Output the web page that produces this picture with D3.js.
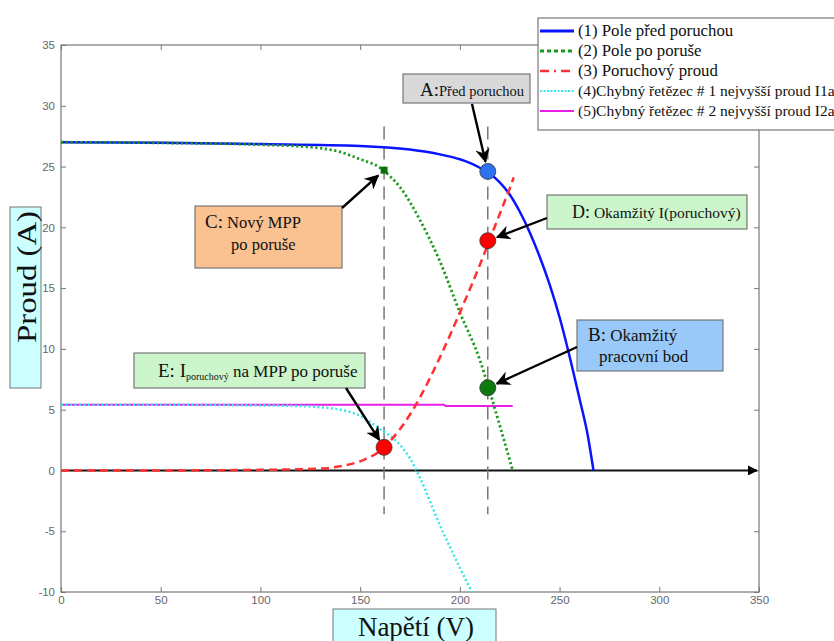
<html>
	<head>
		<title></title>
		<script type="text/javascript" src="https://d3js.org/d3.v7.min.js"></script>
		<style>
			body {
				margin: 0;
				background-color: #ffffff;
			}
			.tick text {
				font-family: Arial, "Liberation Sans", sans-serif;
				font-size: 11.5px;
				fill: #666;
			}
		</style>
	</head>
	<body>
		<div id="chart"></div>

		<script>

			var serif = "'Liberation Serif', 'Times New Roman', serif";

			//Axis ticks
			var xTicks = [0, 50, 100, 150, 200, 250, 300, 350];
			var yTicks = [-10, -5, 0, 5, 10, 15, 20, 25, 30, 35];

			//(1) Pole pred poruchou
			var v1 = [0, 50, 100, 150, 175, 190, 200, 205, 210, 215, 220, 225, 230, 235, 240, 245, 250, 255, 260, 264, 267];
			var i1 = [27.0, 26.95, 26.85, 26.7, 26.4, 26.0, 25.6, 25.3, 24.9, 24.4, 23.7, 22.7, 21.3, 19.6, 17.6, 15.3, 12.6, 9.4, 5.9, 3.0, 0];

			//(2) Pole po poruse
			var v2 = [0, 50, 100, 125, 140, 150, 160, 165, 170, 180, 190, 200, 210, 215, 220, 226.5];
			var i2 = [27.0, 26.95, 26.8, 26.6, 26.2, 25.6, 24.9, 24.2, 23.3, 20.6, 17.2, 13.0, 9.1, 6.5, 3.7, 0];

			//(3) Poruchovy proud
			var v3 = [0, 50, 100, 130, 140, 150, 155, 160, 165, 170, 175, 180, 185, 190, 195, 200, 205, 210, 215, 220, 225, 227];
			var i3 = [0, 0, 0.05, 0.15, 0.35, 0.75, 1.1, 1.6, 2.4, 3.4, 4.6, 6.0, 7.6, 9.3, 11.1, 13.0, 14.9, 16.9, 19.0, 21.1, 23.2, 24.1];

			//(4) Chybny retezec #1
			var v4 = [0, 50, 100, 120, 130, 140, 150, 160, 170, 175, 180, 190, 200, 206];
			var i4 = [5.4, 5.4, 5.35, 5.3, 5.2, 5.0, 4.5, 3.4, 2.1, 1.0, -0.6, -4.5, -8.0, -10];

			//(5) Chybny retezec #2
			var v5 = [0, 192, 193, 226.5];
			var i5 = [5.4, 5.4, 5.3, 5.3];

			//Operating points
			var vFault = 162;   //C, E
			var vNow = 214;     //A, B, D
			var iA = 24.6, iB = 6.8, iC = 24.7, iD = 18.9, iE = 1.9;

			var legendLabels = ["(1) Pole před poruchou", "(2) Pole po poruše", "(3) Poruchový proud",
				"(4)Chybný řetězec # 1 nejvyšší proud I1a", "(5)Chybný řetězec # 2 nejvyšší proud I2a"];

			//Canvas
			var canvasWidth = 834;
			var canvasHeight = 641;

			var canvas = d3.select("#chart").append("svg")
				.attr("width", canvasWidth)
				.attr("height", canvasHeight);

			var x = d3.scaleLinear().domain([0, 350]).range([61, 759]);
			var y = d3.scaleLinear().domain([-10, 35]).range([592, 45]);

			//Arrow markers
			var defs = canvas.append("defs");
			defs.append("marker").attr("id", "arr")
				.attr("viewBox", "0 0 10 10").attr("refX", 9).attr("refY", 5)
				.attr("markerWidth", 6).attr("markerHeight", 6).attr("markerUnits", "strokeWidth")
				.attr("orient", "auto")
				.append("path").attr("d", "M0,0 L10,5 L0,10 L3,5 Z").attr("fill", "#000");
			defs.append("marker").attr("id", "arrAxis")
				.attr("viewBox", "0 0 10 10").attr("refX", 9).attr("refY", 5)
				.attr("markerWidth", 6).attr("markerHeight", 5).attr("markerUnits", "strokeWidth")
				.attr("orient", "auto")
				.append("path").attr("d", "M0,0 L10,5 L0,10 Z").attr("fill", "#000");

			//Frame and axes
			canvas.append("rect").attr("x", x(0)).attr("y", y(35))
				.attr("width", x(350) - x(0)).attr("height", y(-10) - y(35))
				.attr("fill", "none").attr("stroke", "#777").attr("stroke-width", 1.2);

			function grey(g){ g.select(".domain").remove(); g.selectAll("line").attr("stroke", "#777"); }
			var plain = function(d){ return String(d); };
			canvas.append("g").attr("transform", "translate(0," + y(-10) + ")")
				.call(d3.axisBottom(x).tickValues(xTicks).tickFormat(plain).tickSizeInner(-5).tickSizeOuter(0).tickPadding(4))
				.call(grey);
			canvas.append("g").attr("transform", "translate(" + x(0) + ",0)")
				.call(d3.axisLeft(y).tickValues(yTicks).tickFormat(plain).tickSizeInner(-5).tickSizeOuter(0).tickPadding(6))
				.call(grey);
			canvas.append("g").attr("transform", "translate(" + x(350) + ",0)")
				.call(d3.axisRight(y).tickValues(yTicks).tickSizeInner(-5).tickSizeOuter(0).tickFormat(""))
				.call(grey);
			canvas.append("g").attr("transform", "translate(0," + y(35) + ")")
				.call(d3.axisTop(x).tickValues(xTicks).tickSizeInner(-5).tickSizeOuter(0).tickFormat(""))
				.call(grey);

			//Zero line arrow
			canvas.append("line").attr("x1", x(0)).attr("x2", x(349))
				.attr("y1", y(0)).attr("y2", y(0))
				.attr("stroke", "#111").attr("stroke-width", 2).attr("marker-end", "url(#arrAxis)");

			//Vertical dashed guides
			[vFault, vNow].forEach(function(v){
				canvas.append("line").attr("x1", x(v)).attr("x2", x(v))
					.attr("y1", y(28.3)).attr("y2", y(-3.6))
					.attr("stroke", "#777").attr("stroke-width", 1.5).attr("stroke-dasharray", "13,7");
			});

			//Curves
			var line = d3.line().x(function(d){ return x(d[0]); }).y(function(d){ return y(d[1]); }).curve(d3.curveMonotoneX);
			function series(v, c){ return v.map(function(d, k){ return [d, c[k]]; }); }

			var curves = [
				{ d: series(v5, i5), color: "#e81ee8", w: 2, dash: null },
				{ d: series(v4, i4), color: "#33e6ee", w: 2.5, dash: "2,2.5" },
				{ d: series(v1, i1), color: "#0a14ff", w: 2.5, dash: null },
				{ d: series(v2, i2), color: "#1a9a1a", w: 2.8, dash: "2.2,2.6" },
				{ d: series(v3, i3), color: "#ff3030", w: 2.5, dash: "8,5" }
			];
			curves.forEach(function(c){
				canvas.append("path").attr("d", line(c.d)).attr("fill", "none")
					.attr("stroke", c.color).attr("stroke-width", c.w)
					.attr("stroke-dasharray", c.dash);
			});

			//Operating point markers
			var pts = [
				{ v: vNow, i: iA, fill: "#2f72f0" },
				{ v: vNow, i: iD, fill: "#ff0000" },
				{ v: vNow, i: iB, fill: "#0d7a0d" },
				{ v: vFault, i: iE, fill: "#ff0000" }
			];
			canvas.selectAll("circle.pt").data(pts).enter().append("circle")
				.attr("cx", function(d){ return x(d.v); }).attr("cy", function(d){ return y(d.i); })
				.attr("r", 8).attr("fill", function(d){ return d.fill; })
				.attr("stroke", "#333").attr("stroke-width", 0.8);
			canvas.append("rect").attr("x", x(vFault) - 3.5).attr("y", y(iC) - 3.5)
				.attr("width", 7).attr("height", 7).attr("fill", "#0d6e0d");

			//Annotation boxes
			function box(bx, by, bw, bh, fill){
				canvas.append("rect").attr("x", bx).attr("y", by).attr("width", bw).attr("height", bh)
					.attr("fill", fill).attr("stroke", "#777").attr("stroke-width", 1.2);
			}
			function arrow(x1, y1, v, i, back){
				var tx = x(v), ty = y(i);
				var dx = x1 - tx, dy = y1 - ty, len = Math.sqrt(dx*dx + dy*dy);
				canvas.append("line").attr("x1", x1).attr("y1", y1)
					.attr("x2", tx + dx/len*back).attr("y2", ty + dy/len*back)
					.attr("stroke", "#000").attr("stroke-width", 2.4).attr("marker-end", "url(#arr)");
			}
			function label(tx, ty, parts){
				var t = canvas.append("text").attr("x", tx).attr("y", ty)
					.style("font-family", serif).attr("fill", "#111");
				parts.forEach(function(p){
					var s = t.append("tspan").text(p[0]).style("font-family", serif).style("font-size", p[1]);
					if (p[2]) s.attr("dy", p[2]);
				});
			}

			//A
			box(403, 74, 127, 29, "#d9d9d9");
			label(420, 96, [["A:", "19px"], ["Před poruchou", "14.5px"]]);
			arrow(472, 104, vNow, iA, 10);

			//C
			box(195, 206, 147, 62, "#fac191");
			label(205, 228, [["C:", "19px"], [" Nový MPP", "16.5px"]]);
			label(231, 250, [["po poruše", "16.5px"]]);
			arrow(342, 208, vFault, iC, 8);

			//D
			box(547, 195, 200, 34, "#ccf5cc");
			label(572, 218, [["D:", "18px"], [" Okamžitý I(poruchový)", "15.5px"]]);
			arrow(547, 218, vNow, iD, 10);

			//B
			box(577, 320, 146, 51, "#99c9f8");
			label(588, 341, [["B:", "19px"], [" Okamžitý", "17px"]]);
			label(599, 362, [["pracovní bod", "17px"]]);
			arrow(577, 347, vNow, iB, 10);

			//E
			box(134, 353, 231, 35, "#ccf5cc");
			label(158, 377, [["E: I", "19px"], ["poruchový", "10px", 3], [" na MPP po poruše", "17px", -3]]);
			arrow(346, 388, vFault, iE, 9);

			//Legend
			var lg = canvas.append("g");
			lg.append("rect").attr("x", 538).attr("y", 18).attr("width", 310).attr("height", 112)
				.attr("fill", "#fff").attr("stroke", "#777").attr("stroke-width", 1.2);
			var lgStyle = [
				{ color: "#0a14ff", w: 3, dash: null, size: "16.8px" },
				{ color: "#1a9a1a", w: 3, dash: "4,3", size: "16.8px" },
				{ color: "#ff3030", w: 2.5, dash: "9,5,2,5", size: "16.8px" },
				{ color: "#33e6ee", w: 2, dash: "2,1.5", size: "15.5px" },
				{ color: "#e81ee8", w: 2, dash: null, size: "15.5px" }
			];
			legendLabels.forEach(function(txt, k){
				var ly = 31 + k*20;
				lg.append("line").attr("x1", 540).attr("x2", 574).attr("y1", ly).attr("y2", ly)
					.attr("stroke", lgStyle[k].color).attr("stroke-width", lgStyle[k].w)
					.attr("stroke-dasharray", lgStyle[k].dash);
				lg.append("text").attr("x", 578).attr("y", ly + 5)
					.style("font-family", serif).style("font-size", lgStyle[k].size)
					.attr("fill", "#111").text(txt);
			});

			//Axis titles
			canvas.append("rect").attr("x", 10).attr("y", 207).attr("width", 31).attr("height", 181)
				.attr("fill", "#ccffff").attr("stroke", "#777");
			canvas.append("text")
				.attr("transform", "translate(36,277) rotate(-90)")
				.attr("text-anchor", "middle").style("font-family", serif).style("font-size", "27px").attr("fill", "#111")
				.attr("textLength", 132).attr("lengthAdjust", "spacingAndGlyphs")
				.text("Proud (A)");
			canvas.append("rect").attr("x", 333).attr("y", 609).attr("width", 163).attr("height", 40)
				.attr("fill", "#ccffff").attr("stroke", "#777");
			canvas.append("text")
				.attr("x", 416).attr("y", 636)
				.attr("text-anchor", "middle").style("font-family", serif).style("font-size", "27px").attr("fill", "#111")
				.text("Napětí (V)");

		</script>
	</body>
</html>
